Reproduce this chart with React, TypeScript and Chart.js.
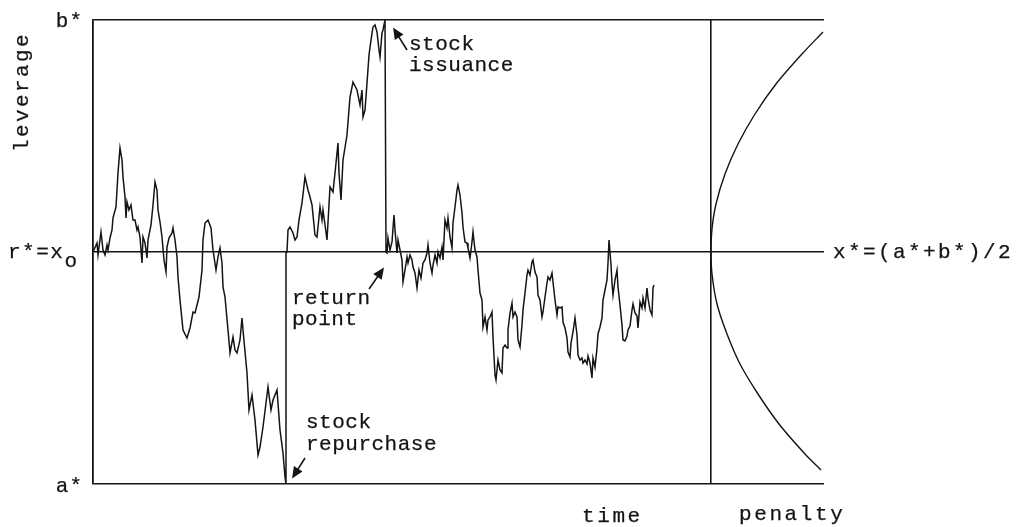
import React, { useEffect, useRef } from "react";
import { Chart, registerables } from "chart.js";

Chart.register(...registerables);

// ---- data (time in steps, leverage in chart units: a* = 0, b* = 4.64) ----
const TIME_STEPS = [
  0, 4, 5, 8, 10, 12, 14, 15, 17, 19, 20, 23, 25, 27, 29, 30, 32, 33, 34, 36, 38, 40, 42, 44, 45, 47, 49, 50, 52, 54, 55, 58, 60, 62, 64, 65, 67, 69, 71, 73, 74, 76, 79, 80, 82, 84, 85, 87, 90, 94, 97, 100, 102, 104, 106, 109, 110, 112, 115, 118, 120, 123, 125, 127, 129, 130, 132, 135, 137, 140, 142, 144, 147, 149, 150, 154, 156, 159, 162, 165, 167, 170, 173, 175, 178, 180, 184, 187, 190, 192, 193,
  193, 194, 195, 197, 200, 202, 204, 206, 209, 212, 215, 217, 219, 222, 224, 227, 229, 230, 232, 234, 237, 240, 242, 244, 245, 246, 248, 250, 254, 257, 260, 264, 267, 269, 270, 272, 274, 276, 278, 280, 282, 284, 286, 287, 289, 290, 292,
  293, 294, 295, 297, 299, 301, 302, 304, 305, 307, 309, 310, 312, 314, 315, 317, 319, 320, 322, 324, 326, 328, 330, 332, 334, 335, 337, 339, 340, 342, 344, 345, 347, 349, 350, 352, 354, 355, 357, 359, 360, 362, 364, 365, 367, 369, 370, 372, 374, 375, 377, 379, 380, 382, 384, 385, 387,
  389, 390, 392, 394, 395, 397, 399, 400, 402, 403, 405, 407, 409, 410, 412, 414, 415, 417, 419, 420, 422, 424, 425, 427, 429, 430, 432, 434, 435, 437, 439, 440, 442, 444, 445, 447, 449, 450, 452, 454, 455, 457, 459, 460, 462, 464, 465, 467, 469, 470, 472, 474, 475, 477, 478, 480, 482, 484, 485, 487, 489, 490, 492, 494, 495, 497, 499, 500, 502, 504, 505, 507, 509, 510, 512, 514, 515, 516, 518, 519, 520, 522, 524, 525, 527, 529, 530, 532, 534, 535, 537, 539, 540, 542, 544, 545, 547, 549, 550, 552, 554, 555, 557, 559, 560, 561,
];

const LEVERAGE = [
  2.32, 2.41, 2.29, 2.52, 2.34, 2.29, 2.39, 2.34, 2.46, 2.54, 2.66, 2.77, 3.11, 3.36, 3.24, 3.07, 2.87, 2.66, 2.82, 2.74, 2.79, 2.64, 2.64, 2.54, 2.57, 2.47, 2.21, 2.47, 2.41, 2.26, 2.44, 2.59, 2.79, 3.02, 2.94, 2.74, 2.62, 2.47, 2.24, 2.12, 2.37, 2.46, 2.51, 2.56, 2.44, 2.27, 2.07, 1.84, 1.54, 1.46, 1.56, 1.72, 1.71, 1.79, 1.87, 2.14, 2.44, 2.61, 2.64, 2.56, 2.34, 2.14, 2.27, 2.36, 2.21, 1.97, 1.87, 1.54, 1.31, 1.47, 1.34, 1.31, 1.44, 1.66, 1.54, 1.11, 0.74, 0.89, 0.64, 0.29, 0.37, 0.57, 0.81, 0.97, 0.74, 0.84, 0.94, 0.54, 0.31, 0.07, 0.0,
  2.32, 2.32, 2.54, 2.57, 2.51, 2.44, 2.47, 2.64, 2.81, 3.07, 2.94, 2.87, 2.79, 2.49, 2.47, 2.77, 2.64, 2.74, 2.59, 2.44, 2.97, 2.92, 3.11, 3.31, 3.41, 3.11, 2.84, 3.24, 3.49, 3.87, 4.02, 3.94, 3.79, 3.94, 3.67, 3.74, 4.01, 4.29, 4.44, 4.57, 4.59, 4.52, 4.34, 4.27, 4.51, 4.54, 4.64,
  2.32, 2.31, 2.46, 2.34, 2.42, 2.69, 2.54, 2.31, 2.44, 2.34, 2.24, 2.02, 2.14, 2.27, 2.21, 2.29, 2.24, 2.17, 2.11, 1.96, 2.14, 2.06, 2.21, 2.24, 2.31, 2.39, 2.21, 2.11, 2.19, 2.29, 2.21, 2.32, 2.26, 2.37, 2.24, 2.64, 2.56, 2.66, 2.47, 2.36, 2.61, 2.77, 2.94, 2.99, 2.89, 2.71, 2.57, 2.42, 2.41, 2.36, 2.26, 2.42, 2.52, 2.34, 2.27, 2.14, 1.91,
  1.84, 1.57, 1.67, 1.54, 1.64, 1.67, 1.72, 1.47, 1.09, 1.04, 1.24, 1.14, 1.11, 1.36, 1.39, 1.36, 1.54, 1.71, 1.81, 1.67, 1.72, 1.67, 1.44, 1.37, 1.59, 1.74, 1.91, 2.09, 2.14, 2.09, 2.22, 2.24, 2.12, 2.07, 1.89, 1.84, 1.67, 1.72, 1.87, 2.01, 2.07, 2.04, 2.11, 2.02, 1.84, 1.69, 1.77, 1.76, 1.77, 1.62, 1.56, 1.46, 1.32, 1.27, 1.41, 1.52, 1.66, 1.49, 1.29, 1.24, 1.26, 1.21, 1.24, 1.2, 1.28, 1.21, 1.06, 1.26, 1.17, 1.36, 1.5, 1.57, 1.66, 1.84, 1.94, 2.04, 2.21, 2.44, 2.19, 2.01, 1.89, 2.04, 2.14, 1.97, 1.79, 1.59, 1.44, 1.43, 1.48, 1.54, 1.58, 1.74, 1.8, 1.71, 1.68, 1.56, 1.82, 1.76, 1.86, 1.76, 1.96, 1.86, 1.74, 1.69, 1.96, 1.99,
];

// penalty curve (leverage, penalty)
const PENALTY_LEVERAGE = [4.52, 4.3, 4.0, 3.7, 3.4, 3.1, 2.8, 2.55, 2.32, 2.1, 1.8, 1.5, 1.2, 0.9, 0.6, 0.3, 0.14];
const PENALTY = [112, 91, 65, 44, 27, 14, 5, 1, 0, 1, 6, 16, 29, 47, 68, 94, 110];

// reference levels
const A_STAR = 0;
const R_STAR = 2.32;
const B_STAR = 4.64;
const LEVEL_TICKS = [A_STAR, R_STAR, B_STAR];
const TIME_MAX = 731;
const TIME_DIVIDER = 618;
const PENALTY_MAX = 113;

const INK = "#141414";
const FONT = '"Liberation Mono", "DejaVu Sans Mono", monospace';

function txt(
  ctx: CanvasRenderingContext2D,
  s: string,
  x: number,
  y: number,
  align: CanvasTextAlign,
  base: CanvasTextBaseline,
  spacing: number,
  size = 21
) {
  ctx.font = `${size}px ${FONT}`;
  (ctx as any).letterSpacing = `${spacing}px`;
  ctx.textAlign = align;
  ctx.textBaseline = base;
  ctx.fillText(s, x, y);
  ctx.lineWidth = 0.25;
  ctx.strokeText(s, x, y);
}

function arrow(ctx: CanvasRenderingContext2D, x1: number, y1: number, x2: number, y2: number) {
  const ang = Math.atan2(y2 - y1, x2 - x1);
  const len = 9;
  const half = 4;
  ctx.lineWidth = 1.6;
  ctx.beginPath();
  ctx.moveTo(x1, y1);
  ctx.lineTo(x2 - Math.cos(ang) * len * 0.6, y2 - Math.sin(ang) * len * 0.6);
  ctx.stroke();
  const bx = x2 - Math.cos(ang) * len;
  const by = y2 - Math.sin(ang) * len;
  ctx.beginPath();
  ctx.moveTo(x2, y2);
  ctx.lineTo(bx + Math.cos(ang + Math.PI / 2) * half, by + Math.sin(ang + Math.PI / 2) * half);
  ctx.lineTo(bx + Math.cos(ang - Math.PI / 2) * half, by + Math.sin(ang - Math.PI / 2) * half);
  ctx.closePath();
  ctx.lineWidth = 1.4;
  ctx.stroke();
  ctx.fill();
}

const labelsPlugin = {
  id: "labelsPlugin",
  afterDraw(chart: any) {
    const ctx: CanvasRenderingContext2D = chart.ctx;
    const ys = chart.scales.y;
    const area = chart.chartArea;
    ctx.save();
    ctx.fillStyle = INK;
    ctx.strokeStyle = INK;

    // y level labels
    txt(ctx, "b*", area.left - 10, ys.getPixelForValue(B_STAR) + 1, "right", "middle", 1);
    txt(ctx, "a*", area.left - 10, ys.getPixelForValue(A_STAR) + 2, "right", "middle", 1);
    const ry = ys.getPixelForValue(R_STAR);
    txt(ctx, "r*=x", 8, ry, "left", "middle", 1.5);
    ctx.font = `21px ${FONT}`;
    (ctx as any).letterSpacing = "1.5px";
    const w = ctx.measureText("r*=x").width;
    txt(ctx, "o", 8 + w, ry + 9, "left", "middle", 0, 21);

    // right label of the middle level
    txt(ctx, "x*=(a*+b*)/2", area.right + 9, ry, "left", "middle", 2.4);

    // axis titles
    txt(ctx, "time", 582, 522, "left", "alphabetic", 2.6);
    txt(ctx, "penalty", 739, 520, "left", "alphabetic", 2.6);
    ctx.save();
    ctx.translate(22, 92);
    ctx.rotate(-Math.PI / 2);
    txt(ctx, "leverage", 0, 0, "center", "middle", 2.4);
    ctx.restore();

    // annotations
    txt(ctx, "stock", 409, 50, "left", "alphabetic", 0.5);
    txt(ctx, "issuance", 409, 71, "left", "alphabetic", 0.5);
    arrow(ctx, 407, 50, 394, 29);

    txt(ctx, "return", 292, 304, "left", "alphabetic", 0.5);
    txt(ctx, "point", 292, 325, "left", "alphabetic", 0.5);
    arrow(ctx, 369, 289, 383, 269);

    txt(ctx, "stock", 306, 428, "left", "alphabetic", 0.5);
    txt(ctx, "repurchase", 306, 450, "left", "alphabetic", 0.5);
    arrow(ctx, 305, 458, 293, 477);

    ctx.restore();
  },
};

export default function App() {
  const ref = useRef<HTMLCanvasElement | null>(null);

  useEffect(() => {
    if (!ref.current) return;
    const pathData = TIME_STEPS.map((t, i) => ({ x: t, y: LEVERAGE[i] }));
    const penaltyData = PENALTY.map((p, i) => ({ x: p, y: PENALTY_LEVERAGE[i] }));

    const chart = new Chart(ref.current, {
      type: "scatter",
      data: {
        datasets: [
          {
            label: "leverage",
            data: pathData,
            showLine: true,
            borderColor: INK,
            borderWidth: 1.5,
            pointRadius: 0,
            tension: 0,
            xAxisID: "x",
            yAxisID: "y",
          },
          {
            label: "penalty",
            data: penaltyData,
            showLine: true,
            borderColor: INK,
            borderWidth: 1.4,
            pointRadius: 0,
            tension: 0.3,
            xAxisID: "x2",
            yAxisID: "y",
          },
        ],
      },
      options: {
        animation: false,
        responsive: false,
        devicePixelRatio: 1,
        layout: { padding: { left: 93, right: 198, top: 20, bottom: 43 } },
        plugins: { legend: { display: false }, tooltip: { enabled: false } },
        scales: {
          x: {
            type: "linear",
            min: 0,
            max: TIME_MAX,
            afterBuildTicks: (s: any) => {
              s.ticks = [{ value: TIME_DIVIDER }];
            },
            afterFit: (s: any) => {
              s.height = 0;
            },
            ticks: { display: false },
            grid: { drawTicks: false, color: INK, lineWidth: 1.6 },
            border: { display: false },
          },
          x2: {
            type: "linear",
            display: false,
            min: -TIME_DIVIDER,
            max: PENALTY_MAX,
          },
          y: {
            type: "linear",
            min: A_STAR,
            max: B_STAR,
            afterBuildTicks: (s: any) => {
              s.ticks = LEVEL_TICKS.map((v) => ({ value: v }));
            },
            afterFit: (s: any) => {
              s.width = 0;
            },
            ticks: { display: false },
            grid: { drawTicks: false, color: INK, lineWidth: 1.6 },
            border: { display: true, color: INK, width: 1.8 },
          },
        },
      },
      plugins: [labelsPlugin],
    });
    return () => chart.destroy();
  }, []);

  return (
    <div style={{ position: "fixed", left: 0, top: 0, width: 1022, height: 527, background: "#fff" }}>
      <canvas ref={ref} width={1022} height={527} />
    </div>
  );
}
